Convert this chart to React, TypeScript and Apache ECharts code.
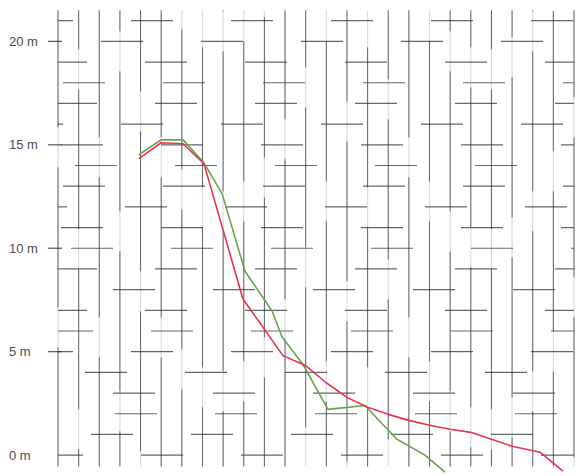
import React, { useEffect, useRef } from 'react';
import * as echarts from 'echarts';

// Horizontal distance, in grid columns
const redDistance = [3.92, 4.99, 6.06, 7.07, 8.96, 10.9, 12.0, 12.98, 14.0, 15.0, 16.0, 17.0, 18.0, 19.0, 20.0, 21.0, 22.0, 23.35, 24.47];
// Height in metres
const redHeight = [14.33, 15.1, 15.05, 14.09, 7.55, 4.81, 4.33, 3.51, 2.79, 2.31, 1.97, 1.68, 1.44, 1.25, 1.1, 0.77, 0.43, 0.14, -0.77];

const greenDistance = [3.92, 4.99, 6.06, 7.07, 7.95, 9.06, 10.37, 10.85, 11.87, 13.08, 14.87, 16.42, 17.78, 18.75];
const greenHeight = [14.52, 15.24, 15.24, 14.13, 12.64, 8.89, 6.97, 5.72, 4.38, 2.21, 2.4, 0.77, 0.0, -0.82];

const yTickValues = [0, 5, 10, 15, 20];
const yUnit = 'm';

const COLS = 25;
const ROW_TOP = 21;
const LINE_TOP = 21.5;
const LINE_BOTTOM = -0.55;

const gridRows = Array.from({ length: ROW_TOP + 1 }, (_, i) => [0, i]);
const gridCols = Array.from({ length: COLS + 1 }, (_, i) => [i, 0]);

export default function App() {
  const ref = useRef<HTMLDivElement>(null);

  useEffect(() => {
    if (!ref.current) return;
    const chart = echarts.init(ref.current, undefined, { renderer: 'svg' });

    // Staggered horizontal dashes, one row per metre
    const horizontalTexture = (params: any, api: any) => {
      const r = api.value(1);
      const a = api.coord([0, r]);
      const b = api.coord([COLS, r]);
      const off = (r * 37 + r * r * 13 + 17) % 100;
      const children: any[] = [
        {
          type: 'line',
          shape: { x1: a[0], y1: a[1], x2: b[0], y2: b[1] },
          style: { stroke: 'rgba(40,44,48,0.72)', lineWidth: 1.2, lineDash: [42, 58], lineDashOffset: off },
        },
      ];
      if (yTickValues.includes(r) && r > 0) {
        children.push({
          type: 'line',
          shape: { x1: a[0] - 10, y1: a[1], x2: a[0] + 4, y2: a[1] },
          style: { stroke: 'rgba(40,44,48,0.8)', lineWidth: 1.2 },
        });
      }
      return { type: 'group', children };
    };

    // Vertical rules, one per column, with lighter stretches
    const verticalTexture = (params: any, api: any) => {
      const c = api.value(0);
      const a = api.coord([c, LINE_TOP]);
      const b = api.coord([c, LINE_BOTTOM]);
      const off = (c * 71 + c * c * 7 + 23) % 180;
      return {
        type: 'group',
        children: [
          {
            type: 'line',
            shape: { x1: a[0], y1: a[1], x2: b[0], y2: b[1] },
            style: { stroke: '#d6dee4', lineWidth: 1.2 },
          },
          {
            type: 'line',
            shape: { x1: a[0], y1: a[1], x2: b[0], y2: b[1] },
            style: { stroke: 'rgba(50,56,62,0.72)', lineWidth: 1, lineDash: [140, 40], lineDashOffset: off },
          },
        ],
      };
    };

    chart.setOption({
      animation: false,
      backgroundColor: '#ffffff',
      grid: { left: 58, right: 7, top: -2.6, bottom: 0.2, containLabel: false },
      xAxis: {
        type: 'value',
        min: 0,
        max: COLS,
        show: false,
      },
      yAxis: {
        type: 'value',
        min: -1,
        max: 22,
        interval: 1,
        axisLine: { show: false },
        axisTick: { show: false },
        splitLine: { show: false },
        axisLabel: {
          formatter: (v: number) => (yTickValues.includes(v) ? `${v} ${yUnit}` : ''),
          align: 'left',
          margin: 49,
          color: '#4a4a4a',
          fontSize: 13,
          fontFamily: 'Liberation Sans, Arial, sans-serif',
        },
      },
      series: [
        {
          type: 'custom',
          silent: true,
          clip: false,
          z: 1,
          encode: { x: 0, y: 1 },
          data: gridCols,
          renderItem: verticalTexture,
        },
        {
          type: 'custom',
          silent: true,
          clip: false,
          z: 2,
          encode: { x: 0, y: 1 },
          data: gridRows,
          renderItem: horizontalTexture,
        },
        {
          type: 'line',
          z: 5,
          clip: false,
          showSymbol: false,
          data: greenDistance.map((d, i) => [d, greenHeight[i]]),
          lineStyle: { color: '#63a64c', width: 1.6 },
        },
        {
          type: 'line',
          z: 6,
          clip: false,
          showSymbol: false,
          data: redDistance.map((d, i) => [d, redHeight[i]]),
          lineStyle: { color: '#e6344f', width: 1.6 },
        },
      ],
    });

    return () => chart.dispose();
  }, []);

  return (
    <div
      ref={ref}
      style={{ position: 'fixed', left: 0, top: 0, width: 581, height: 476, background: '#fff' }}
    />
  );
}
